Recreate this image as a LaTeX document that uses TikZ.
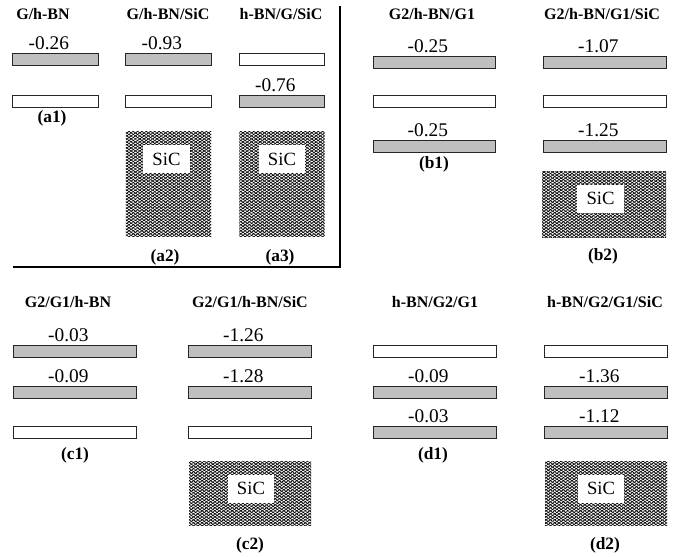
\documentclass[tikz,border=0pt]{standalone}
\usepackage{fontspec}
\setmainfont{Liberation Serif}
\usetikzlibrary{positioning,patterns.meta}

\begin{document}
\begin{tikzpicture}[
  x=0.75pt, y=-0.75pt,
  band/.style={
    rectangle, draw=black!85, line width=0.6pt,
    inner sep=0pt, outer sep=0pt, minimum height=8.5pt
  },
  occ/.style={band, fill=black!25},
  emp/.style={band, fill=white},
  narrow/.style={minimum width=64pt},
  wide/.style={minimum width=92pt},
  val/.style={font=\fontsize{14.5}{16}\selectfont, inner sep=0pt, xshift=-5pt},
  title/.style={font=\fontsize{12}{14}\selectfont\bfseries},
  tag/.style={font=\fontsize{13}{15}\selectfont\bfseries},
  sic/.style={
    rectangle, inner sep=0pt,
    pattern={Lines[angle=35,distance=1.85pt,line width=0.5pt]},
    postaction={pattern={Lines[angle=-35,distance=1.85pt,line width=0.5pt]}}
  },
  siclbl/.style={
    rectangle, fill=white, inner sep=0pt,
    minimum width=35pt, minimum height=21pt,
    font=\fontsize{14}{16}\selectfont
  },
  frame/.style={line width=1.5pt}
]
\useasboundingbox (0,0) rectangle (684,556);

% (a1)
\node[title] (ta1) at (43,14) {G/h-BN};
\node[occ, narrow] (a1u) at (55.5,59.5) {};
\node[emp, narrow] (a1l) at (55.5,101.5) {};
\node[val, above=3pt of a1u] (va1u) {-0.26};
\node[tag] (la1) at (52,118) {(a1)};

% (a2)
\node[title] (ta2) at (168,14) {G/h-BN/SiC};
\node[occ, narrow] (a2u) at (168.5,59.5) {};
\node[emp, narrow] (a2l) at (168.5,101.5) {};
\node[val, above=3pt of a2u] (va2u) {-0.93};
\node[sic, minimum width=64pt, minimum height=78pt] (a2s) at (168.5,184) {};
\node[siclbl] (sa2) at (166.5,159) {SiC};
\node[tag] (la2) at (165,257) {(a2)};

% (a3)
\node[title] (ta3) at (281,14) {h-BN/G/SiC};
\node[emp, narrow] (a3u) at (282,59.5) {};
\node[occ, narrow] (a3l) at (282,101.5) {};
\node[val, above=3pt of a3l] (va3l) {-0.76};
\node[sic, minimum width=64pt, minimum height=78pt] (a3s) at (282,184) {};
\node[siclbl] (sa3) at (282,159) {SiC};
\node[tag] (la3) at (280,257) {(a3)};

% Rahmen um (a)
\coordinate (ftop) at (340,6);
\coordinate (fcorner) at (340,267);
\coordinate (fleft) at (13,267);
\draw[frame] (ftop) -- (fcorner) -- (fleft);

% (b1)
\node[title] (tb1) at (432,14) {G2/h-BN/G1};
\node[occ, wide] (b1u) at (434.5,62.5) {};
\node[emp, wide] (b1m) at (434.5,101.5) {};
\node[occ, wide] (b1d) at (434.5,146.5) {};
\node[val, above=3pt of b1u] (vb1u) {-0.25};
\node[val, above=3pt of b1d] (vb1d) {-0.25};
\node[tag] (lb1) at (434,164) {(b1)};

% (b2)
\node[title] (tb2) at (602,14) {G2/h-BN/G1/SiC};
\node[occ, wide] (b2u) at (605,62.5) {};
\node[emp, wide] (b2m) at (605,101.5) {};
\node[occ, wide] (b2d) at (605,146.5) {};
\node[val, above=3pt of b2u] (vb2u) {-1.07};
\node[val, above=3pt of b2d] (vb2d) {-1.25};
\node[sic, minimum width=93pt, minimum height=49pt] (b2s) at (604,204.5) {};
\node[siclbl] (sb2) at (600.5,198.5) {SiC};
\node[tag] (lb2) at (603,256) {(b2)};

% (c1)
\node[title] (tc1) at (68,302) {G2/G1/h-BN};
\node[occ, wide] (c1u) at (75,351.5) {};
\node[occ, wide] (c1m) at (75,392.5) {};
\node[emp, wide] (c1d) at (75,432.5) {};
\node[val, above=3pt of c1u] (vc1u) {-0.03};
\node[val, above=3pt of c1m] (vc1m) {-0.09};
\node[tag] (lc1) at (75,455) {(c1)};

% (c2)
\node[title] (tc2) at (250,302) {G2/G1/h-BN/SiC};
\node[occ, wide] (c2u) at (250,351.5) {};
\node[occ, wide] (c2m) at (250,392.5) {};
\node[emp, wide] (c2d) at (250,432.5) {};
\node[val, above=3pt of c2u] (vc2u) {-1.26};
\node[val, above=3pt of c2m] (vc2m) {-1.28};
\node[sic, minimum width=91.5pt, minimum height=48pt] (c2s) at (250,493) {};
\node[siclbl] (sc2) at (251,488.5) {SiC};
\node[tag] (lc2) at (250,545) {(c2)};

% (d1)
\node[title] (td1) at (435,302) {h-BN/G2/G1};
\node[emp, wide] (d1u) at (435,351.5) {};
\node[occ, wide] (d1m) at (435,392.5) {};
\node[occ, wide] (d1d) at (435,432.5) {};
\node[val, above=3pt of d1m] (vd1m) {-0.09};
\node[val, above=3pt of d1d] (vd1d) {-0.03};
\node[tag] (ld1) at (433,455) {(d1)};

% (d2)
\node[title] (td2) at (605,302) {h-BN/G2/G1/SiC};
\node[emp, wide] (d2u) at (606,351.5) {};
\node[occ, wide] (d2m) at (606,392.5) {};
\node[occ, wide] (d2d) at (606,432.5) {};
\node[val, above=3pt of d2m] (vd2m) {-1.36};
\node[val, above=3pt of d2d] (vd2d) {-1.12};
\node[sic, minimum width=91.5pt, minimum height=48pt] (d2s) at (606,493) {};
\node[siclbl] (sd2) at (601,488.5) {SiC};
\node[tag] (ld2) at (605,545) {(d2)};
\end{tikzpicture}
\end{document}
